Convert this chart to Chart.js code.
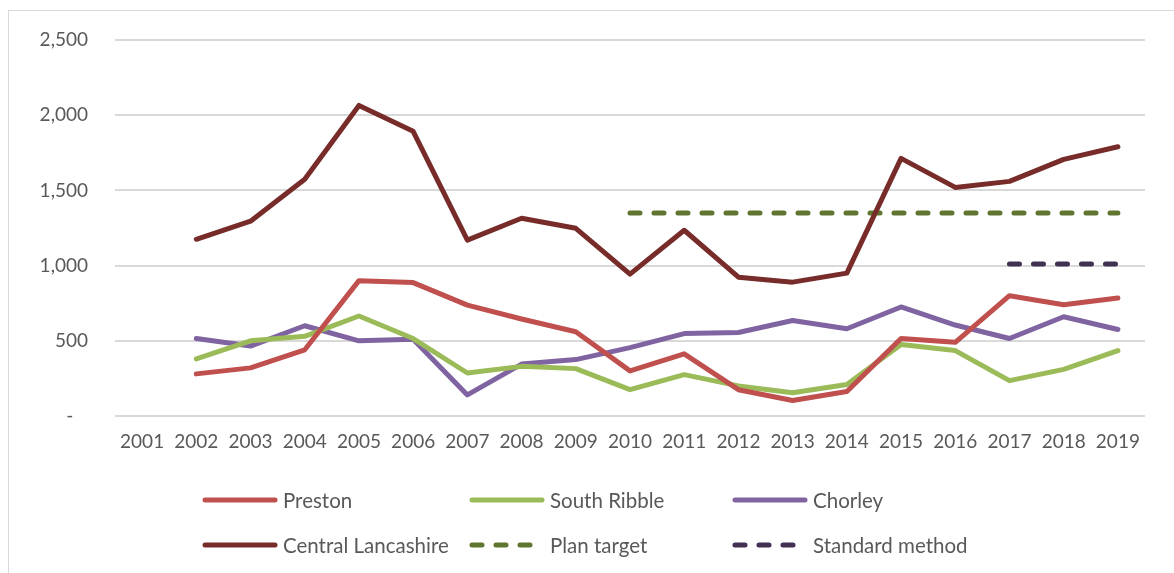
<!DOCTYPE html>
<html>
<head>
<meta charset="utf-8">
<script src="https://cdn.jsdelivr.net/npm/chart.js@4.4.1/dist/chart.umd.min.js"></script>
<style>
  html, body { margin: 0; padding: 0; background: #fff; }
  #wrap { position: relative; width: 1174px; height: 573px; overflow: hidden; }
  #frame { position: absolute; left: 8px; top: 10px; width: 1300px; height: 700px;
           border-left: 1px solid #d9d9d9; border-top: 1px solid #d9d9d9; }
  #legend { position: absolute; left: 0; top: 0; width: 1174px; height: 573px; pointer-events: none;
            font-family: Lato, "Open Sans", sans-serif; font-size: 20.5px; color: #595959; }
  .item { position: absolute; display: flex; align-items: center; white-space: nowrap; }
  .item svg { margin-right: 5px; }
</style>
</head>
<body>
<div id="wrap">
  <div id="frame"></div>
  <canvas id="chart" width="1174" height="573"></canvas>
  <div id="legend"></div>
</div>
<script>
// années
const years = ['2001','2002','2003','2004','2005','2006','2007','2008','2009','2010',
               '2011','2012','2013','2014','2015','2016','2017','2018','2019'];

// séries
const preston = [null, 280, 320, 440, 900, 887, 737, 645, 560, 300, 413, 175, 103, 163, 515, 490, 800, 740, 785];
const southRibble = [null, 380, 500, 530, 665, 515, 286, 330, 315, 175, 275, 200, 155, 210, 475, 435, 235, 310, 435];
const chorley = [null, 515, 465, 600, 500, 510, 140, 345, 375, 455, 548, 555, 635, 580, 725, 605, 515, 660, 575];
const centralLancs = [null, 1175, 1295, 1574, 2065, 1893, 1169, 1315, 1248, 943, 1235, 923, 890, 950, 1713, 1520, 1560, 1706, 1790];
const planTarget = [null, null, null, null, null, null, null, null, null, 1350, 1350, 1350, 1350, 1350, 1350, 1350, 1350, 1350, 1350];
const standardMethod = [null, null, null, null, null, null, null, null, null, null, null, null, null, null, null, null, 1010, 1010, 1010];

const yTicks = [0, 500, 1000, 1500, 2000, 2500];

const textColor = '#595959';
const fontFamily = 'Lato, "Open Sans", sans-serif';

function serie(label, data, color, dash) {
    return {
        label: label,
        data: data,
        borderColor: color,
        backgroundColor: color,
        borderWidth: 5,
        borderDash: dash || [],
        borderCapStyle: 'round',
        borderJoinStyle: 'round',
        pointRadius: 0,
        tension: 0,
        spanGaps: false
    };
}

const datasets = [
    serie('Preston', preston, '#C0504D'),
    serie('South Ribble', southRibble, '#9BBB59'),
    serie('Chorley', chorley, '#8064A2'),
    serie('Central Lancashire', centralLancs, '#772C2A'),
    serie('Plan target', planTarget, '#5F7530', [10, 14]),
    serie('Standard method', standardMethod, '#403152', [10, 14])
];

const chart = new Chart(document.getElementById('chart'), {
    type: 'line',
    data: { labels: years, datasets: datasets },
    options: {
        responsive: false,
        animation: false,
        layout: { padding: { left: 0, top: 40, right: 29, bottom: 0 } },
        plugins: {
            legend: { display: false },
            tooltip: { enabled: false }
        },
        scales: {
            x: {
                offset: true,
                grid: { display: false },
                border: { display: false },
                ticks: {
                    color: textColor,
                    font: { family: fontFamily, size: 19 },
                    padding: 6,
                    maxRotation: 0,
                    autoSkip: false
                },
                afterFit: s => { s.height = 157; }
            },
            y: {
                min: 0,
                max: 2500,
                afterBuildTicks: s => { s.ticks = yTicks.map(v => ({ value: v })); },
                grid: { color: '#d9d9d9', lineWidth: 2, drawTicks: false },
                border: { display: false },
                ticks: {
                    color: textColor,
                    font: { family: fontFamily, size: 19 },
                    padding: 27,
                    callback: v => v === 0 ? '-   ' : v.toLocaleString('en-US')
                },
                afterFit: s => { s.width = 115; }
            }
        }
    }
});

// légende en HTML, à partir des datasets
const legendPos = [
    [205, 500], [472, 500], [735, 500],
    [205, 545], [472, 545], [735, 545]
];
const legend = document.getElementById('legend');
chart.data.datasets.forEach((ds, i) => {
    const div = document.createElement('div');
    div.className = 'item';
    div.style.left = (legendPos[i][0] - 3) + 'px';
    div.style.top = (legendPos[i][1] - 12) + 'px';
    const dash = ds.borderDash.length ? ds.borderDash.join(' ') : 'none';
    div.innerHTML =
        '<svg width="76" height="24"><line x1="3" y1="12" x2="73" y2="12" stroke="' + ds.borderColor +
        '" stroke-width="5" stroke-linecap="round" stroke-dasharray="' + dash + '"/></svg>' +
        '<span>' + ds.label + '</span>';
    legend.appendChild(div);
});
</script>
</body>
</html>
